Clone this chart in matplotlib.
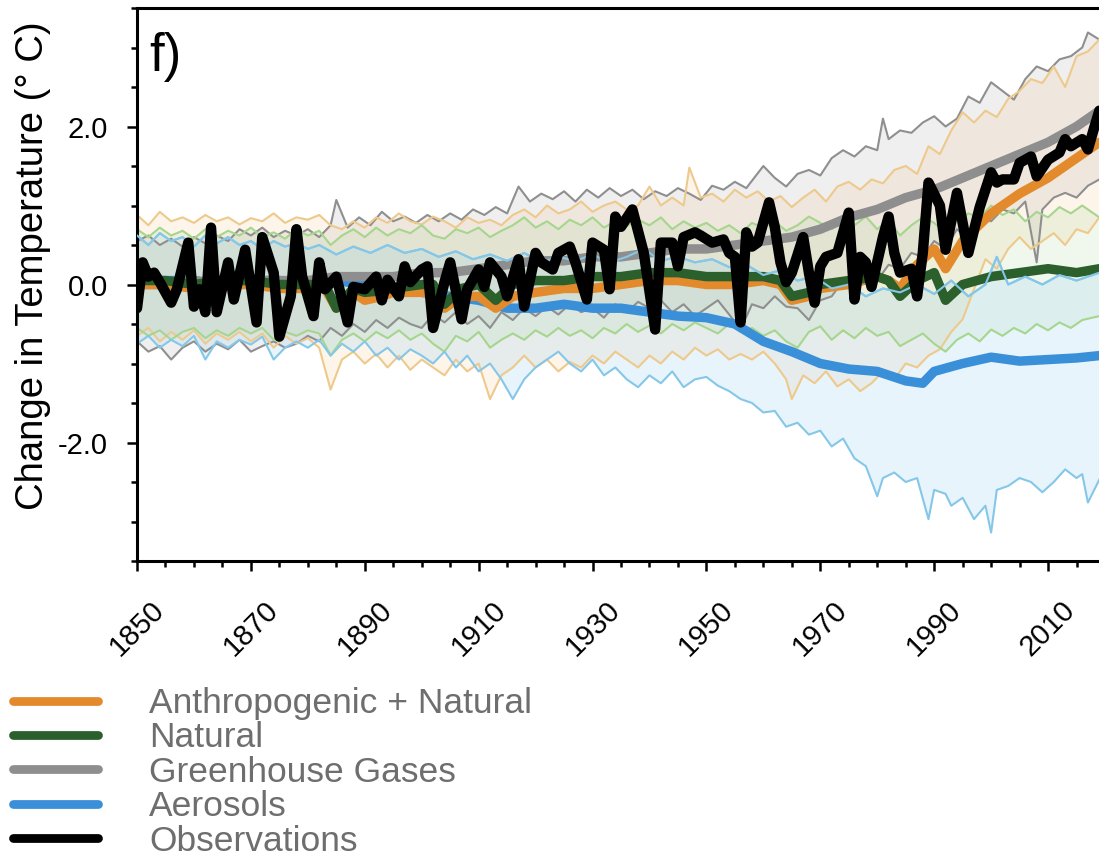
import matplotlib.pyplot as plt
from matplotlib.lines import Line2D
from matplotlib.ticker import MultipleLocator, FixedLocator

plt.rcParams['font.family'] = ['Liberation Sans', 'DejaVu Sans']

# Observed temperature change
obs_years = [1850, 1851, 1852, 1853, 1854, 1856, 1857, 1859, 1860, 1861, 1862, 1863, 1864, 1866,
             1867, 1869, 1871, 1872, 1874, 1875, 1877, 1878, 1879, 1881, 1882, 1883, 1885, 1887,
             1888, 1890, 1892, 1893, 1894, 1896, 1897, 1898, 1900, 1901, 1902, 1904, 1905, 1907,
             1908, 1910, 1911, 1912, 1914, 1915, 1917, 1918, 1920, 1921, 1923, 1924, 1926, 1927,
             1929, 1930, 1932, 1933, 1934, 1935, 1937, 1939, 1941, 1942, 1944, 1945, 1946, 1948,
             1949, 1951, 1953, 1954, 1955, 1956, 1957, 1958, 1959, 1961, 1962, 1963, 1964, 1965,
             1967, 1968, 1969, 1970, 1971, 1973, 1975, 1976, 1977, 1978, 1979, 1981, 1982, 1983,
             1984, 1986, 1987, 1988, 1989, 1991, 1992, 1994, 1996, 1998, 2000, 2001, 2002, 2004,
             2005, 2007, 2008, 2010, 2012, 2013, 2014, 2016, 2017, 2018, 2019]
obs = [-0.30, 0.28, 0.10, 0.15, 0.03, -0.23, -0.06, 0.53, -0.28, -0.06, -0.35, 0.72, -0.35, 0.28,
       -0.19, 0.44, -0.48, 0.60, 0.15, -0.66, -0.15, 0.70, 0.10, -0.40, 0.28, -0.06, 0.10, -0.48,
       -0.03, -0.06, 0.10, -0.20, 0.06, -0.15, 0.23, 0.03, 0.19, 0.23, -0.55, 0.03, 0.28, -0.44,
       -0.06, 0.19, -0.03, 0.28, 0.10, -0.15, 0.32, -0.28, 0.40, 0.28, 0.19, 0.40, 0.48, 0.28,
       -0.19, 0.53, 0.44, -0.06, 0.86, 0.73, 0.95, 0.40, -0.57, 0.53, 0.53, 0.23, 0.60, 0.66,
       0.62, 0.53, 0.57, 0.40, 0.35, -0.48, 0.66, 0.48, 0.53, 1.04, 0.73, 0.28, 0.03, 0.15,
       0.60, 0.15, -0.23, 0.23, 0.35, 0.40, 0.91, -0.19, 0.35, 0.28, -0.03, 0.60, 0.86, 0.40,
       0.15, 0.20, -0.15, 0.40, 1.29, 1.00, 0.44, 1.16, 0.40, 0.98, 1.42, 1.29, 1.33, 1.33,
       1.54, 1.62, 1.37, 1.58, 1.67, 1.84, 1.75, 1.84, 1.71, 1.96, 2.20]

# Multi-model means
mean_years = [1850, 1855, 1860, 1865, 1870, 1875, 1880, 1883, 1885, 1888, 1890, 1893, 1895, 1900,
              1902, 1904, 1907, 1910, 1913, 1916, 1920, 1925, 1930, 1935, 1940, 1945, 1950, 1955,
              1960, 1963, 1965, 1968, 1970, 1975, 1980, 1982, 1984, 1987, 1990, 1992, 1995, 2000,
              2005, 2010, 2015, 2019]
all_mean = [0.0, 0.0, -0.05, 0.0, 0.0, -0.05, -0.05, -0.05, -0.30, -0.10, -0.20, -0.15, -0.10, -0.10,
            -0.10, -0.30, -0.15, -0.15, -0.30, -0.15, -0.10, -0.05, -0.05, 0.0, 0.05, 0.05, 0.0, 0.0,
            0.05, 0.0, -0.20, -0.15, -0.05, 0.0, 0.10, 0.05, -0.05, 0.25, 0.45, 0.20, 0.55, 0.90,
            1.15, 1.35, 1.60, 1.80]
nat_mean = [0.05, 0.05, 0.0, 0.05, 0.05, 0.0, 0.0, 0.0, -0.30, -0.05, -0.10, -0.08, -0.05, 0.0,
            0.0, -0.25, -0.05, 0.0, -0.20, 0.0, 0.05, 0.05, 0.10, 0.10, 0.15, 0.15, 0.10, 0.10,
            0.10, 0.05, -0.15, -0.10, 0.0, 0.05, 0.10, 0.05, -0.15, 0.05, 0.15, -0.20, 0.0, 0.10,
            0.15, 0.20, 0.15, 0.20]

ghg_years = [1850, 1855, 1860, 1865, 1870, 1875, 1880, 1885, 1890, 1895, 1900, 1905, 1910, 1915,
             1920, 1925, 1930, 1935, 1940, 1945, 1950, 1955, 1960, 1965, 1970, 1975, 1980, 1985,
             1990, 1995, 2000, 2005, 2010, 2015, 2019]
ghg_mean = [0.0, 0.0, 0.05, 0.0, 0.05, 0.05, 0.05, 0.10, 0.10, 0.10, 0.15, 0.15, 0.20, 0.25,
            0.30, 0.30, 0.35, 0.35, 0.40, 0.45, 0.45, 0.50, 0.55, 0.60, 0.70, 0.85, 0.95, 1.10,
            1.20, 1.35, 1.50, 1.65, 1.80, 2.00, 2.20]

aer_years = [1850, 1855, 1860, 1865, 1870, 1875, 1880, 1885, 1890, 1895, 1900, 1905, 1910, 1915,
             1920, 1925, 1930, 1935, 1940, 1945, 1950, 1955, 1960, 1965, 1970, 1975, 1980, 1985,
             1988, 1990, 1995, 2000, 2005, 2010, 2015, 2019]
aer_mean = [0.05, 0.05, 0.05, 0.0, 0.05, 0.05, 0.0, 0.05, 0.0, -0.05, -0.10, -0.15, -0.20, -0.30,
            -0.30, -0.25, -0.30, -0.30, -0.35, -0.40, -0.42, -0.50, -0.72, -0.85, -1.00, -1.07,
            -1.10, -1.22, -1.25, -1.10, -1.00, -0.92, -0.97, -0.95, -0.93, -0.90]

# Model ranges (max / min edges)
ghg_hi_years = [1850, 1852, 1854, 1856, 1858, 1860, 1862, 1864, 1866, 1868, 1870, 1872, 1874, 1876,
                1878, 1880, 1882, 1884, 1885, 1887, 1889, 1891, 1893, 1895, 1897, 1899, 1901, 1903,
                1905, 1907, 1909, 1911, 1913, 1915, 1917, 1919, 1921, 1923, 1925, 1927, 1929, 1931,
                1933, 1935, 1937, 1939, 1941, 1943, 1945, 1947, 1949, 1951, 1953, 1955, 1957, 1960,
                1962, 1964, 1966, 1968, 1970, 1972, 1974, 1976, 1978, 1980, 1981, 1982, 1984, 1986,
                1988, 1990, 1992, 1994, 1996, 1998, 2000, 2002, 2004, 2006, 2008, 2010, 2012, 2014,
                2016, 2017, 2019]
ghg_hi = [0.55, 0.62, 0.50, 0.58, 0.48, 0.60, 0.52, 0.62, 0.55, 0.70, 0.62, 0.72, 0.60, 0.68,
          0.62, 0.70, 0.60, 0.75, 1.07, 0.72, 0.85, 0.75, 0.92, 0.80, 0.86, 0.78, 0.88, 0.80,
          0.90, 0.82, 0.95, 0.88, 0.98, 0.90, 1.24, 1.05, 1.15, 1.08, 1.18, 1.05, 1.20, 1.10,
          1.22, 1.12, 1.20, 1.08, 1.18, 1.12, 1.22, 1.15, 1.07, 1.25, 1.20, 1.30, 1.22, 1.50,
          1.35, 1.24, 1.40, 1.45, 1.38, 1.60, 1.70, 1.62, 1.75, 1.70, 2.10, 1.84, 1.95, 1.92,
          2.05, 2.13, 2.00, 2.10, 2.38, 2.30, 2.56, 2.45, 2.34, 2.60, 2.76, 2.70, 2.85, 2.89,
          3.00, 3.19, 3.10]
ghg_lo_years = [1850, 1852, 1854, 1856, 1858, 1860, 1862, 1864, 1866, 1868, 1870, 1872, 1874, 1876,
                1878, 1880, 1882, 1884, 1886, 1888, 1890, 1892, 1894, 1896, 1898, 1900, 1902, 1904,
                1906, 1908, 1910, 1912, 1914, 1916, 1918, 1920, 1922, 1924, 1926, 1928, 1930, 1932,
                1934, 1936, 1938, 1940, 1942, 1944, 1946, 1948, 1950, 1952, 1954, 1956, 1958, 1960,
                1962, 1964, 1966, 1968, 1970, 1972, 1974, 1976, 1978, 1980, 1982, 1984, 1986, 1988,
                1990, 1992, 1994, 1996, 1998, 2000, 2002, 2004, 2006, 2008, 2009, 2011, 2013, 2015,
                2017, 2019]
ghg_lo = [-0.72, -0.85, -0.78, -0.95, -0.80, -0.72, -0.85, -0.75, -0.82, -0.70, -0.85, -0.78, -0.72, -0.80,
          -0.75, -0.65, -0.72, -0.55, -0.65, -0.50, -0.60, -0.45, -0.55, -0.42, -0.50, -0.55, -0.38, -0.48,
          -0.35, -0.50, -0.40, -0.55, -0.35, -0.45, -0.30, -0.40, -0.28, -0.38, -0.25, -0.35, -0.30, -0.42,
          -0.25, -0.35, -0.22, -0.30, -0.20, -0.35, -0.25, -0.40, -0.30, -0.20, -0.38, -0.57, -0.25, -0.30,
          -0.15, -0.28, -0.30, -0.45, -0.20, -0.15, 0.05, 0.0, 0.10, 0.05, 0.25, 0.20, 0.40, 0.35,
          0.55, 0.45, 0.70, 0.57, 0.85, 0.80, 0.95, 0.90, 1.05, 0.28, 0.95, 1.10, 1.16, 1.10,
          1.25, 1.33]

all_hi_years = [1850, 1852, 1854, 1856, 1858, 1860, 1862, 1864, 1866, 1868, 1870, 1872, 1874, 1876,
                1878, 1880, 1882, 1884, 1886, 1888, 1890, 1892, 1894, 1896, 1898, 1900, 1902, 1904,
                1906, 1908, 1910, 1912, 1914, 1916, 1918, 1920, 1922, 1924, 1926, 1928, 1930, 1932,
                1934, 1936, 1938, 1940, 1942, 1944, 1946, 1947, 1949, 1951, 1953, 1955, 1957, 1959,
                1961, 1963, 1965, 1967, 1969, 1971, 1973, 1975, 1977, 1979, 1981, 1983, 1985, 1987,
                1989, 1991, 1993, 1995, 1997, 1999, 2001, 2003, 2005, 2007, 2009, 2011, 2013, 2015,
                2017, 2019]
all_hi = [0.88, 0.75, 0.92, 0.80, 0.85, 0.78, 0.88, 0.80, 0.85, 0.76, 0.84, 0.80, 0.90, 0.78,
          0.85, 0.82, 0.88, 0.75, 0.70, 0.80, 0.72, 0.85, 0.78, 0.90, 0.80, 0.76, 0.86, 0.80,
          0.72, 0.85, 0.78, 0.82, 0.75, 0.88, 0.95, 0.85, 1.00, 0.90, 0.95, 1.05, 0.92, 1.00,
          1.05, 0.95, 1.00, 1.24, 1.00, 1.10, 1.00, 1.48, 1.10, 1.15, 1.05, 1.20, 1.10, 1.18,
          1.05, 1.12, 0.98, 1.10, 1.20, 1.05, 1.24, 1.30, 1.20, 1.33, 1.28, 1.45, 1.50, 1.40,
          1.75, 1.65, 1.95, 2.18, 2.05, 2.20, 2.12, 2.35, 2.45, 2.60, 2.55, 2.76, 2.50, 2.89,
          2.95, 3.10]
all_lo_years = [1850, 1852, 1854, 1856, 1858, 1860, 1862, 1864, 1866, 1868, 1870, 1872, 1874, 1876,
                1878, 1880, 1882, 1884, 1886, 1888, 1890, 1892, 1894, 1896, 1898, 1900, 1902, 1904,
                1906, 1908, 1910, 1912, 1914, 1916, 1918, 1920, 1922, 1924, 1926, 1928, 1930, 1932,
                1934, 1936, 1938, 1940, 1942, 1944, 1946, 1948, 1950, 1952, 1954, 1956, 1958, 1960,
                1962, 1964, 1965, 1967, 1969, 1971, 1973, 1975, 1977, 1979, 1981, 1983, 1985, 1987,
                1989, 1991, 1993, 1995, 1997, 1999, 2001, 2003, 2005, 2007, 2009, 2011, 2013, 2015,
                2017, 2019]
all_lo = [-0.65, -0.55, -0.72, -0.60, -0.70, -0.58, -0.75, -0.62, -0.70, -0.60, -0.72, -0.62, -0.80, -0.65,
          -0.75, -0.68, -0.80, -1.33, -0.95, -0.85, -1.00, -0.88, -1.05, -0.90, -1.08, -0.95, -1.05, -1.15,
          -0.95, -1.10, -1.00, -1.45, -1.15, -1.05, -0.90, -1.05, -0.95, -1.10, -0.98, -1.05, -0.90, -1.00,
          -0.85, -0.95, -1.05, -0.90, -1.00, -0.85, -0.95, -0.80, -0.90, -0.82, -0.95, -0.88, -0.95, -0.85,
          -1.00, -1.20, -1.45, -1.15, -1.25, -1.10, -1.29, -1.20, -1.35, -1.25, -1.10, -1.20, -1.00, -1.05,
          -0.90, -0.82, -0.60, -0.44, -0.06, 0.32, 0.20, 0.45, 0.60, 0.45, 0.55, 0.65, 0.50, 0.70,
          0.65, 0.85]

nat_hi_years = [1850, 1852, 1854, 1856, 1858, 1860, 1862, 1864, 1866, 1868, 1870, 1872, 1874, 1876,
                1878, 1880, 1882, 1884, 1886, 1888, 1890, 1892, 1894, 1896, 1898, 1900, 1902, 1904,
                1906, 1908, 1910, 1912, 1914, 1916, 1918, 1920, 1922, 1924, 1926, 1928, 1930, 1932,
                1934, 1936, 1938, 1940, 1942, 1944, 1946, 1948, 1950, 1952, 1954, 1956, 1958, 1960,
                1962, 1964, 1966, 1968, 1970, 1972, 1974, 1976, 1978, 1980, 1982, 1984, 1986, 1988,
                1990, 1992, 1994, 1996, 1998, 2000, 2002, 2004, 2006, 2008, 2010, 2012, 2014, 2016,
                2019]
nat_hi = [0.70, 0.60, 0.72, 0.62, 0.68, 0.58, 0.70, 0.60, 0.68, 0.62, 0.72, 0.60, 0.66, 0.58,
          0.70, 0.62, 0.68, 0.50, 0.62, 0.70, 0.60, 0.72, 0.62, 0.70, 0.65, 0.75, 0.62, 0.58,
          0.70, 0.65, 0.72, 0.60, 0.68, 0.75, 0.85, 0.72, 0.80, 0.70, 0.82, 0.75, 0.85, 0.72,
          0.80, 0.74, 0.82, 0.75, 0.85, 0.70, 0.80, 0.72, 0.78, 0.68, 0.75, 0.65, 0.78, 0.72,
          0.80, 0.68, 0.75, 0.86, 0.78, 0.70, 0.82, 0.75, 0.86, 0.70, 0.82, 0.62, 0.75, 0.85,
          0.78, 0.65, 0.80, 0.90, 0.85, 1.00, 0.88, 0.95, 0.80, 0.92, 0.85, 0.98, 0.90, 1.00,
          0.85]
nat_lo_years = nat_hi_years
nat_lo = [-0.55, -0.65, -0.58, -0.70, -0.60, -0.55, -0.68, -0.58, -0.65, -0.55, -0.62, -0.55, -0.70, -0.60,
          -0.65, -0.58, -0.62, -0.90, -0.70, -0.62, -0.72, -0.60, -0.68, -0.58, -0.70, -0.62, -0.75, -0.85,
          -0.65, -0.72, -0.60, -0.80, -0.70, -0.62, -0.70, -0.58, -0.66, -0.55, -0.65, -0.58, -0.68, -0.55,
          -0.62, -0.50, -0.60, -0.52, -0.62, -0.50, -0.58, -0.48, -0.55, -0.62, -0.50, -0.60, -0.55, -0.65,
          -0.58, -0.72, -0.80, -0.60, -0.53, -0.70, -0.58, -0.68, -0.55, -0.65, -0.60, -0.78, -0.70, -0.62,
          -0.75, -0.85, -0.70, -0.62, -0.72, -0.57, -0.65, -0.55, -0.62, -0.50, -0.58, -0.48, -0.55, -0.45,
          -0.40]

aer_hi_years = [1850, 1852, 1854, 1856, 1858, 1860, 1862, 1864, 1866, 1868, 1870, 1872, 1874, 1876,
                1878, 1880, 1882, 1885, 1888, 1891, 1894, 1897, 1900, 1903, 1906, 1909, 1912, 1915,
                1918, 1921, 1924, 1927, 1930, 1933, 1936, 1939, 1942, 1945, 1948, 1951, 1954, 1957,
                1960, 1963, 1966, 1969, 1972, 1975, 1978, 1981, 1984, 1987, 1990, 1993, 1996, 1999,
                2001, 2003, 2006, 2009, 2012, 2015, 2019]
aer_hi = [0.62, 0.50, 0.65, 0.55, 0.60, 0.48, 0.62, 0.52, 0.60, 0.50, 0.55, 0.45, 0.55, 0.48,
          0.52, 0.45, 0.50, 0.38, 0.48, 0.40, 0.50, 0.40, 0.45, 0.35, 0.42, 0.32, 0.38, 0.30,
          0.40, 0.28, 0.35, 0.30, 0.38, 0.28, 0.35, 0.45, 0.30, 0.35, 0.28, 0.32, 0.22, 0.25,
          0.12, 0.18, 0.05, 0.10, -0.05, 0.0, -0.15, -0.05, -0.10, 0.0, -0.12, 0.05, -0.15, 0.0,
          0.35, 0.0, 0.10, 0.0, 0.12, 0.05, 0.15]
aer_lo_years = [1850, 1852, 1854, 1856, 1858, 1860, 1862, 1864, 1866, 1868, 1870, 1872, 1874, 1876,
                1878, 1880, 1882, 1884, 1886, 1888, 1890, 1892, 1894, 1896, 1898, 1900, 1902, 1904,
                1906, 1908, 1910, 1912, 1914, 1916, 1918, 1920, 1922, 1924, 1926, 1928, 1930, 1932,
                1934, 1936, 1938, 1940, 1942, 1944, 1946, 1948, 1950, 1952, 1954, 1956, 1958, 1960,
                1962, 1964, 1966, 1968, 1970, 1972, 1974, 1976, 1978, 1980, 1981, 1983, 1985, 1987,
                1989, 1990, 1992, 1993, 1995, 1997, 1999, 2000, 2001, 2003, 2005, 2007, 2009, 2011,
                2013, 2015, 2016, 2017, 2019]
aer_lo = [-0.75, -0.65, -0.80, -0.70, -0.78, -0.65, -0.95, -0.72, -0.80, -0.70, -0.76, -0.66, -0.95, -0.80,
          -0.72, -0.80, -0.70, -0.90, -0.75, -0.85, -0.72, -0.90, -0.80, -0.95, -0.82, -0.90, -1.00, -0.85,
          -1.05, -0.90, -1.10, -1.00, -1.20, -1.45, -1.20, -1.05, -0.95, -0.85, -1.00, -1.10, -0.95, -1.15,
          -1.05, -1.20, -1.30, -1.15, -1.25, -1.10, -1.30, -1.20, -1.17, -1.28, -1.35, -1.45, -1.50, -1.62,
          -1.60, -1.80, -1.75, -1.90, -1.85, -2.05, -1.95, -2.20, -2.30, -2.68, -2.45, -2.38, -2.50, -2.45,
          -2.97, -2.60, -2.65, -2.80, -2.70, -2.97, -2.80, -3.14, -2.60, -2.55, -2.45, -2.50, -2.63, -2.50,
          -2.34, -2.45, -2.40, -2.76, -2.47]

labels = ['Anthropogenic + Natural', 'Natural', 'Greenhouse Gases', 'Aerosols', 'Observations']
colors = ['#e38b2c', '#2b5f2c', '#8e8e8e', '#3a8fd9', '#000000']

fig = plt.figure(figsize=(10.99, 8.57), dpi=100)
ax = fig.add_axes([137 / 1099, 1 - 561 / 857, 968 / 1099, 553 / 857])

# Shaded model ranges: upper edge forward, lower edge back
ranges = [(ghg_hi_years, ghg_hi, ghg_lo_years, ghg_lo, '#a0a0a0', 0.16, '#8f8f8f'),
          (all_hi_years, all_hi, all_lo_years, all_lo, '#f2bd78', 0.15, '#eec98c'),
          (nat_hi_years, nat_hi, nat_lo_years, nat_lo, '#9cce8a', 0.15, '#a6d68e'),
          (aer_hi_years, aer_hi, aer_lo_years, aer_lo, '#9fd3f0', 0.24, '#85c7e8')]
for hx, hy, lx, ly, fc, a, lc in ranges:
    ax.fill(list(hx) + list(lx)[::-1], list(hy) + list(ly)[::-1],
            color=fc, alpha=a, lw=0, zorder=1)
for hx, hy, lx, ly, fc, a, lc in ranges:
    ax.plot(hx, hy, color=lc, lw=1.5, zorder=2)
    ax.plot(lx, ly, color=lc, lw=1.5, zorder=2)

# Means and observations
ax.plot(aer_years, aer_mean, color=colors[3], lw=6.8, solid_capstyle='round', zorder=3)
ax.plot(ghg_years, ghg_mean, color=colors[2], lw=6.8, solid_capstyle='round', zorder=3)
ax.plot(mean_years, all_mean, color=colors[0], lw=6.8, solid_capstyle='round', zorder=3)
ax.plot(mean_years, nat_mean, color=colors[1], lw=6.8, solid_capstyle='round', zorder=3)
# aerosol upper edge crosses over the natural mean
ax.plot(aer_hi_years, aer_hi, color='#85c7e8', lw=1.5, zorder=4)
ax.plot(obs_years, obs, color='black', lw=7.5, solid_joinstyle='round',
        solid_capstyle='round', zorder=5)

ax.set_xlim(1850, 2020)
ax.set_ylim(-3.5, 3.5)

ax.xaxis.set_minor_locator(MultipleLocator(5))
ax.yaxis.set_major_locator(FixedLocator([-2, 0, 2]))
ax.yaxis.set_minor_locator(MultipleLocator(0.5))
ax.set_yticklabels(['-2.0', '0.0', '2.0'])
ax.set_xticks(range(1850, 2020, 20))
ax.set_xticklabels([str(y) for y in range(1850, 2020, 20)], rotation=45, ha='center')

ax.tick_params(which='major', length=7, width=1.8, labelsize=21, direction='out')
ax.tick_params(which='minor', length=4, width=1.8, direction='out')
ax.tick_params(axis='y', which='major', pad=14)
ax.tick_params(axis='x', which='major', pad=18)
for s in ax.spines.values():
    s.set_linewidth(2.2)

ax.set_ylabel('Change in Temperature (° C)', fontsize=27.5, va='center')
ax.yaxis.set_label_coords((33 - 137) / 968, (561 - 266) / 553)

ax.text(0.013, 0.957, 'f)', transform=ax.transAxes, fontsize=38, ha='left', va='top')

handles = [Line2D([], [], color=c, lw=6.3, solid_capstyle='round') for c in colors]
leg = fig.legend(handles, labels, loc='upper left', bbox_to_anchor=(13 / 1099, 1 - 687 / 857),
                 frameon=False, fontsize=25.5, handlelength=2.4, handletextpad=1.45,
                 labelspacing=0.04, borderpad=0, borderaxespad=0)
for t in leg.get_texts():
    t.set_color('#6e6e6e')

fig.savefig('out.png', dpi=100)
